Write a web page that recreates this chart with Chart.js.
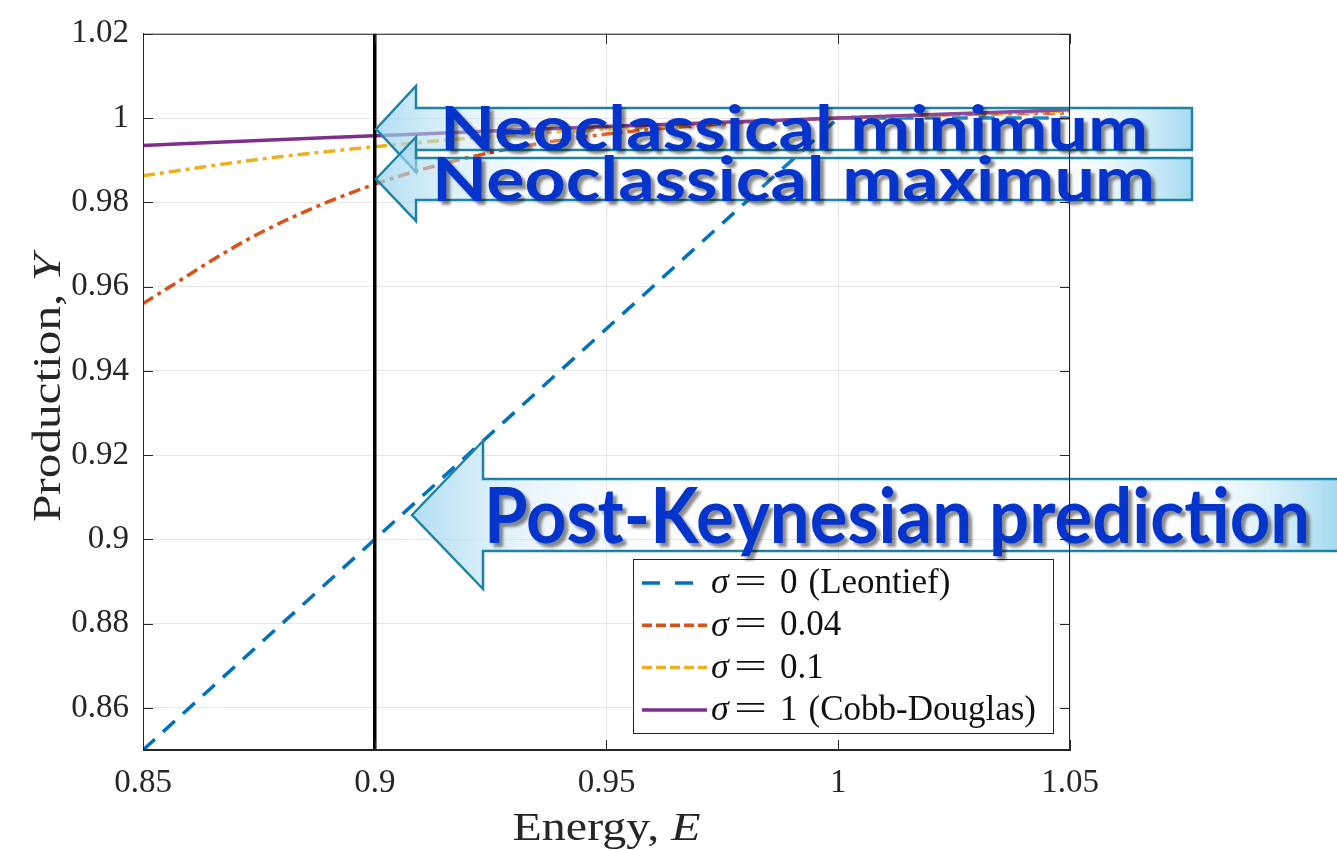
<!DOCTYPE html>
<html>
<head>
<meta charset="utf-8">
<script src="https://cdn.jsdelivr.net/npm/chart.js@4.4.1/dist/chart.umd.min.js"></script>
<style>
  html, body { margin: 0; padding: 0; background: #fff; }
  #wrap { width: 1337px; height: 850px; }
</style>
</head>
<body>
<div id="wrap"><canvas id="chartCES" width="1337" height="850"></canvas></div>
<script>
// ── DATA ────────────────────────────────────────────────────────────
const energy      = [0.85, 0.875, 0.9, 0.925, 0.95, 0.975, 1, 1.025, 1.05];
const ySigma004   = [0.9560, 0.9726, 0.9843, 0.9918, 0.9962, 0.9986, 1, 1.0008, 1.0012];
const ySigma01    = [0.9863, 0.9902, 0.9932, 0.9956, 0.9974, 0.9989, 1, 1.0009, 1.0016];
const yCobb       = [0.9935, 0.9947, 0.9958, 0.9969, 0.9980, 0.9990, 1, 1.0010, 1.0020];
const leontiefE   = [0.85, 1, 1.05];
const leontiefY   = [0.85, 1, 1];
const refLineE    = [0.9, 0.9];
const refLineY    = [0.85, 1.02];

const xTicks      = [0.85, 0.9, 0.95, 1, 1.05];
const yTicks      = [0.86, 0.88, 0.9, 0.92, 0.94, 0.96, 0.98, 1, 1.02];

const sigmaValues = ['0', '0.04', '0.1', '1'];
const sigmaNotes  = ['(Leontief)', '', '', '(Cobb-Douglas)'];
const arrowTexts  = ['Neoclassical minimum', 'Neoclassical maximum', 'Post-Keynesian prediction'];

const xTitle = ['Energy, ', 'E'];
const yTitle = ['Production, ', 'Y'];

// ── HELPERS ─────────────────────────────────────────────────────────
const SERIF = '"Liberation Serif", "Times New Roman", serif';
const INK   = '#262626';

function pts(xs, ys) { return xs.map((v, i) => ({ x: v, y: ys[i] })); }

// draw a [normal, italic] pair fitted to a given width, centred at 0
function drawMathLabel(ctx, parts, size, width) {
  ctx.font = `${size}px ${SERIF}`;
  const w1 = ctx.measureText(parts[0]).width;
  ctx.font = `italic ${size}px ${SERIF}`;
  const w2 = ctx.measureText(parts[1]).width;
  const sx = width / (w1 + w2);
  ctx.save();
  ctx.scale(sx, 1);
  ctx.textBaseline = 'alphabetic';
  ctx.textAlign = 'left';
  const start = -(w1 + w2) / 2;
  ctx.font = `${size}px ${SERIF}`;
  ctx.fillText(parts[0], start, 0);
  ctx.font = `italic ${size}px ${SERIF}`;
  ctx.fillText(parts[1], start + w1, 0);
  ctx.restore();
}

function drawArrow(ctx, a) {
  const { tipX, tipY, headX, headHalf, bodyHalf, endX } = a;
  ctx.beginPath();
  ctx.moveTo(tipX, tipY);
  ctx.lineTo(headX, tipY - headHalf);
  ctx.lineTo(headX, tipY - bodyHalf);
  ctx.lineTo(endX, tipY - bodyHalf);
  ctx.lineTo(endX, tipY + bodyHalf);
  ctx.lineTo(headX, tipY + bodyHalf);
  ctx.lineTo(headX, tipY + headHalf);
  ctx.closePath();
  const g = ctx.createLinearGradient(tipX, 0, Math.min(endX, 1337), 0);
  g.addColorStop(0,    'rgba(150,210,238,0.75)');
  g.addColorStop(0.12, 'rgba(200,232,247,0.45)');
  g.addColorStop(0.3,  'rgba(255,255,255,0.05)');
  g.addColorStop(0.84, 'rgba(235,247,253,0.15)');
  g.addColorStop(1,    'rgba(140,208,236,0.8)');
  ctx.fillStyle = g;
  ctx.fill();
  ctx.lineWidth = 2.5;
  ctx.strokeStyle = '#1f82a3';
  ctx.stroke();
}

function drawArrowText(ctx, text, left, right, baseline, size) {
  ctx.save();
  ctx.font = `bold ${size}px Lato, "Open Sans", sans-serif`;
  const w = ctx.measureText(text).width;
  const sx = (right - left) / w;
  ctx.translate(left, baseline);
  ctx.scale(sx, 1);
  ctx.textAlign = 'left';
  ctx.textBaseline = 'alphabetic';
  ctx.shadowColor = 'rgba(0,0,0,0.45)';
  ctx.shadowOffsetX = 4;
  ctx.shadowOffsetY = 4;
  ctx.shadowBlur = 3;
  ctx.fillStyle = '#0434cc';
  ctx.fillText(text, 0, 0);
  ctx.restore();
}

// ── OVERLAY PLUGIN: box, inner ticks, legend, titles, arrows ────────
const overlayPlugin = {
  id: 'overlay',
  afterDraw(chart) {
    const { ctx, chartArea: a, scales: { x, y } } = chart;
    ctx.save();

    // axis titles
    ctx.fillStyle = INK;
    ctx.save();
    ctx.translate((a.left + a.right) / 2, 840);
    drawMathLabel(ctx, xTitle, 40, 188);
    ctx.restore();
    ctx.save();
    ctx.translate(60, 388);
    ctx.rotate(-Math.PI / 2);
    drawMathLabel(ctx, yTitle, 40, 268);
    ctx.restore();

    // legend
    const box = { l: 633, t: 559, w: 420, h: 174 };
    ctx.fillStyle = '#fff';
    ctx.fillRect(box.l, box.t, box.w, box.h);
    ctx.strokeStyle = INK;
    ctx.lineWidth = 1;
    ctx.strokeRect(box.l + 0.5, box.t + 0.5, box.w, box.h);
    const items = chart.data.datasets.filter(d => d.legend);
    items.forEach((ds, i) => {
      const cy = 583 + i * 42.3;
      ctx.save();
      ctx.strokeStyle = ds.borderColor;
      ctx.lineWidth = 3.5;
      ctx.setLineDash(ds.legendDash || []);
      ctx.beginPath();
      ctx.moveTo(642, cy); ctx.lineTo(707, cy);
      ctx.stroke();
      ctx.restore();

      ctx.fillStyle = '#111';
      ctx.textBaseline = 'middle';
      ctx.textAlign = 'left';
      const ty = cy + 1;
      ctx.font = `italic 36px ${SERIF}`;
      ctx.fillText('σ', 711, ty);
      ctx.font = `35px ${SERIF}`;
      // wide TeX-style equals sign
      const ew = ctx.measureText('=').width;
      ctx.save();
      ctx.translate(734, ty);
      ctx.scale(33 / ew, 1);
      ctx.fillText('=', 0, 0);
      ctx.restore();
      ctx.fillText(sigmaValues[i], 780, ty);
      if (sigmaNotes[i]) {
        const vw = ctx.measureText(sigmaValues[i]).width;
        ctx.fillText(sigmaNotes[i], 780 + vw + 11, ty);
      }
    });

    // annotation arrows (translucent, drawn over the curves)
    drawArrow(ctx, { tipX: 376, tipY: 129, headX: 416, headHalf: 43, bodyHalf: 21, endX: 1192 });
    drawArrowText(ctx, arrowTexts[0], 440, 1148, 150, 62);
    drawArrow(ctx, { tipX: 376, tipY: 179, headX: 416, headHalf: 42, bodyHalf: 21, endX: 1192 });
    drawArrowText(ctx, arrowTexts[1], 432, 1155, 201, 62);
    drawArrow(ctx, { tipX: 412, tipY: 515, headX: 483, headHalf: 74, bodyHalf: 36, endX: 1345 });
    drawArrowText(ctx, arrowTexts[2], 484, 1310, 543, 76);

    // axes box + MATLAB-style inward ticks
    ctx.strokeStyle = INK;
    ctx.lineWidth = 1;
    ctx.strokeRect(a.left + 0.5, a.top + 0.5, a.right - a.left - 1, a.bottom - a.top - 1);
    ctx.beginPath();
    xTicks.forEach(v => {
      const px = Math.round(x.getPixelForValue(v)) + 0.5;
      ctx.moveTo(px, a.bottom); ctx.lineTo(px, a.bottom - 10);
      ctx.moveTo(px, a.top);    ctx.lineTo(px, a.top + 10);
    });
    yTicks.forEach(v => {
      const py = Math.round(y.getPixelForValue(v)) + 0.5;
      ctx.moveTo(a.left, py);  ctx.lineTo(a.left + 10, py);
      ctx.moveTo(a.right, py); ctx.lineTo(a.right - 10, py);
    });
    ctx.stroke();

    ctx.restore();
  }
};

// ── CHART ───────────────────────────────────────────────────────────
const ctx = document.getElementById('chartCES');

new Chart(ctx, {
  type: 'line',
  data: {
    datasets: [
      {
        label: 'E = 0.9',
        data: pts(refLineE, refLineY),
        borderColor: '#000',
        borderWidth: 3.5,
        pointRadius: 0,
        order: 0
      },
      {
        label: 'sigma 0',
        legend: true,
        data: pts(leontiefE, leontiefY),
        borderColor: '#0072BD',
        borderWidth: 3.5,
        borderDash: [16, 11],
        legendDash: [18, 15],
        pointRadius: 0,
        order: 4
      },
      {
        label: 'sigma 0.04',
        legend: true,
        data: pts(energy, ySigma004),
        borderColor: '#D95319',
        borderWidth: 3.5,
        borderDash: [12, 5, 4, 5],
        legendDash: [10, 4],
        cubicInterpolationMode: 'monotone',
        pointRadius: 0,
        order: 3
      },
      {
        label: 'sigma 0.1',
        legend: true,
        data: pts(energy, ySigma01),
        borderColor: '#EDB120',
        borderWidth: 3.5,
        borderDash: [12, 5, 4, 5],
        legendDash: [10, 4],
        cubicInterpolationMode: 'monotone',
        pointRadius: 0,
        order: 2
      },
      {
        label: 'sigma 1',
        legend: true,
        data: pts(energy, yCobb),
        borderColor: '#7E2F8E',
        borderWidth: 3.5,
        cubicInterpolationMode: 'monotone',
        pointRadius: 0,
        order: 1
      }
    ]
  },
  options: {
    responsive: false,
    devicePixelRatio: 1,
    animation: false,
    layout: { padding: { left: 0, top: 27, right: 267, bottom: 0 } },
    plugins: {
      legend: { display: false },
      tooltip: { enabled: false }
    },
    scales: {
      x: {
        type: 'linear',
        min: 0.85,
        max: 1.05,
        afterBuildTicks(scale) { scale.ticks = xTicks.map(v => ({ value: v })); },
        afterFit(scale) { scale.height = 100; },
        ticks: {
          padding: 14,
          color: INK,
          font: { family: SERIF, size: 33 },
          callback: v => String(v)
        },
        grid: { color: '#e6e6e6', drawTicks: false, tickLength: 0 },
        border: { display: true, color: INK, width: 1 }
      },
      y: {
        type: 'linear',
        min: 0.85,
        max: 1.02,
        afterBuildTicks(scale) { scale.ticks = yTicks.map(v => ({ value: v })); },
        afterFit(scale) { scale.width = 143; },
        ticks: {
          padding: 14,
          color: INK,
          font: { family: SERIF, size: 33 },
          callback: v => String(v)
        },
        grid: { color: '#e6e6e6', drawTicks: false, tickLength: 0 },
        border: { display: true, color: INK, width: 1 }
      }
    }
  },
  plugins: [overlayPlugin]
});
</script>
</body>
</html>
